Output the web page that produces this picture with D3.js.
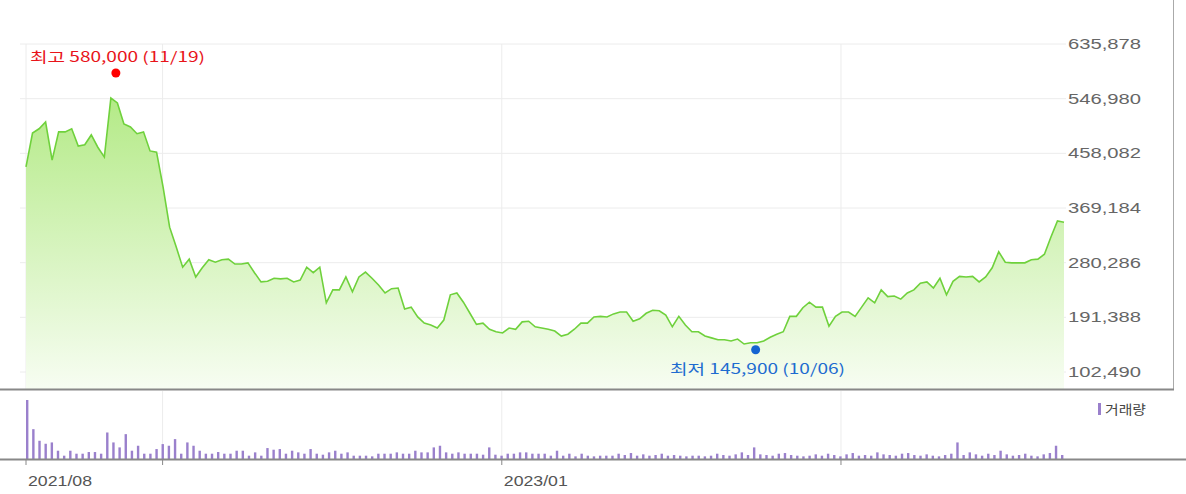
<!DOCTYPE html>
<html><head><meta charset="utf-8">
<script src="https://cdn.jsdelivr.net/npm/d3@7"></script>
<style>body{margin:0;background:#fff;}svg{display:block;font-family:'Noto Sans CJK KR','Noto Sans',sans-serif;}</style>
</head><body><svg id="c" width="1186" height="494"></svg>
<script>
const prices = [436000,491000,498000,509000,447000,493000,493000,498000,470000,472000,488000,468000,452000,548000,540000,506000,501000,490000,493000,462000,460000,403000,338000,306000,273000,286000,257000,272000,285000,281000,285000,286000,278000,278000,280000,264000,249000,250000,255000,254000,255000,249000,252000,273000,264000,273000,215000,236000,236000,257000,233000,257000,265000,255000,244000,231000,238000,239000,205000,208000,192000,182000,179000,174000,187000,228000,231000,216000,198000,180000,182000,172000,168000,166000,174000,172000,184000,185000,176000,174000,172000,169000,161000,164000,172000,182000,182000,192000,193000,192000,197000,200000,200000,185000,189000,198000,203000,202000,195000,176000,193000,179000,168000,168000,161000,158000,155000,155000,153000,156000,148000,150000,150000,153000,159000,164000,168000,193000,193000,207000,216000,208000,208000,177000,193000,200000,200000,193000,208000,223000,215000,236000,225000,226000,221000,231000,236000,247000,249000,239000,255000,228000,250000,258000,257000,258000,249000,257000,272000,298000,281000,280000,280000,280000,285000,286000,294000,322000,348000,346000];
const volumes = [178,90,55,46,50,25,10,25,16,16,21,21,16,80,50,35,75,25,40,16,16,30,45,40,60,16,50,40,25,16,16,21,16,16,25,25,10,20,10,33,28,30,16,25,20,16,30,16,13,20,25,16,20,10,10,10,8,16,16,16,20,16,16,25,20,20,35,40,20,16,20,16,16,16,13,35,13,10,16,16,20,20,16,16,16,10,25,10,16,8,16,10,8,10,10,10,16,12,18,10,14,10,12,16,10,12,10,8,10,10,8,10,16,12,10,14,20,12,35,14,12,10,16,18,12,10,8,10,14,10,16,12,8,14,18,10,12,10,20,14,12,10,16,18,12,10,14,10,8,12,16,50,12,20,14,10,16,12,25,14,10,12,16,10,8,14,18,40,12];
const yTicks = [102490,191388,280286,369184,458082,546980,635878];
const xLabels = [{d:"2021-08-07",t:"2021/08"},{d:"2023-01-01",t:"2023/01"}];
const gridDates = ["2021-08-07","2022-01-01","2023-01-01","2024-01-01"];
const startDate = "2021-08-07", endDate = "2024-08-28";
const hi = {i:13, label:"최고 580,000 (11/19)"};
const lo = {i:111, label:"최저 145,900 (10/06)"};

const svg = d3.select("#c");
const X0=26, X1=1064;
const x = d3.scaleLinear().domain([0,prices.length-1]).range([X0,X1]);
const xt = d3.scaleTime().domain([new Date(startDate),new Date(endDate)]).range([X0,X1]);
const y = d3.scaleLinear().domain([102490,635878]).range([372,44]);
const xv = d3.scaleLinear().domain([0,volumes.length-1]).range([27,1062]);
const yv = d3.scaleLinear().domain([0,178]).range([459,400]);
const SANS = "'Noto Sans CJK KR','Noto Sans','DejaVu Sans',sans-serif";

const defs=svg.append("defs");
const g=defs.append("linearGradient").attr("id","gf").attr("x1",0).attr("x2",0).attr("y1",0).attr("y2",1);
g.append("stop").attr("offset","0%").attr("stop-color","#b4ea87");
g.append("stop").attr("offset","100%").attr("stop-color","#f7fdf2");

svg.append("g").selectAll("line").data(yTicks).join("line")
 .attr("x1",20).attr("x2",1066).attr("y1",d=>y(d)).attr("y2",d=>y(d)).attr("stroke","#ececec");
svg.append("g").selectAll("line").data(gridDates).join("line")
 .attr("x1",d=>xt(new Date(d))).attr("x2",d=>xt(new Date(d))).attr("y1",44).attr("y2",389).attr("stroke","#ececec");

svg.append("path").datum(prices).attr("fill","url(#gf)")
 .attr("d",d3.area().x((d,i)=>x(i)).y0(389).y1(d=>y(d)));
svg.append("path").datum(prices).attr("fill","none").attr("stroke","#6fd13c").attr("stroke-width",1.6)
 .attr("d",d3.line().x((d,i)=>x(i)).y(d=>y(d)));

svg.append("g").selectAll("text").data(yTicks).join("text")
 .attr("x",1068).attr("y",d=>y(d)+5).attr("fill","#666").attr("font-size",14)
 .attr("textLength",73).attr("lengthAdjust","spacingAndGlyphs")
 .style("font-family","'Liberation Sans',Arial,sans-serif").text(d3.format(","));

svg.append("line").attr("x1",1173.5).attr("x2",1173.5).attr("y1",0).attr("y2",390).attr("stroke","#aaa");
svg.append("line").attr("x1",0).attr("x2",1174).attr("y1",389.5).attr("y2",389.5).attr("stroke","#888").attr("stroke-width",2);

svg.append("circle").attr("cx",x(hi.i)+5).attr("cy",y(prices[hi.i])-25).attr("r",4.5).attr("fill","#f00");
svg.append("text").attr("x",30).attr("y",y(prices[hi.i])-36).attr("fill","#e8141a").attr("font-size",14)
 .style("font-family",SANS).attr("textLength",175).attr("lengthAdjust","spacingAndGlyphs").text(hi.label);
svg.append("circle").attr("cx",x(lo.i)+5).attr("cy",y(prices[lo.i])+7).attr("r",4.5).attr("fill","#1464d2");
svg.append("text").attr("x",670).attr("y",y(prices[lo.i])+31).attr("fill","#1e6cd0").attr("font-size",14)
 .style("font-family",SANS).attr("textLength",175).attr("lengthAdjust","spacingAndGlyphs").text(lo.label);

svg.append("g").selectAll("line").data(gridDates.slice(1)).join("line")
 .attr("x1",d=>xt(new Date(d))).attr("x2",d=>xt(new Date(d))).attr("y1",391).attr("y2",459).attr("stroke","#ececec");
svg.append("g").selectAll("rect").data(volumes).join("rect")
 .attr("x",(d,i)=>xv(i)-1).attr("width",2.4).attr("y",d=>yv(d)).attr("height",d=>459-yv(d)).attr("fill","#9a80cc");
svg.append("line").attr("x1",0).attr("x2",1186).attr("y1",459.5).attr("y2",459.5).attr("stroke","#888").attr("stroke-width",2);
svg.append("g").selectAll("line").data(gridDates).join("line")
 .attr("x1",d=>xt(new Date(d))).attr("x2",d=>xt(new Date(d))).attr("y1",460).attr("y2",465).attr("stroke","#888");
svg.append("g").selectAll("text").data(xLabels).join("text")
 .attr("x",d=>xt(new Date(d.d))+2).attr("y",486)
 .attr("textLength",64).attr("lengthAdjust","spacingAndGlyphs")
 .attr("fill","#555").attr("font-size",14).style("font-family","'Liberation Sans',Arial,sans-serif").text(d=>d.t);
svg.append("rect").attr("x",1098).attr("y",403).attr("width",3).attr("height",12).attr("fill","#9a80cc");
svg.append("text").attr("x",1105).attr("y",414).attr("fill","#444").attr("font-size",13).style("font-family",SANS)
 .attr("textLength",41).attr("lengthAdjust","spacingAndGlyphs").text("거래량");
</script></body></html>
